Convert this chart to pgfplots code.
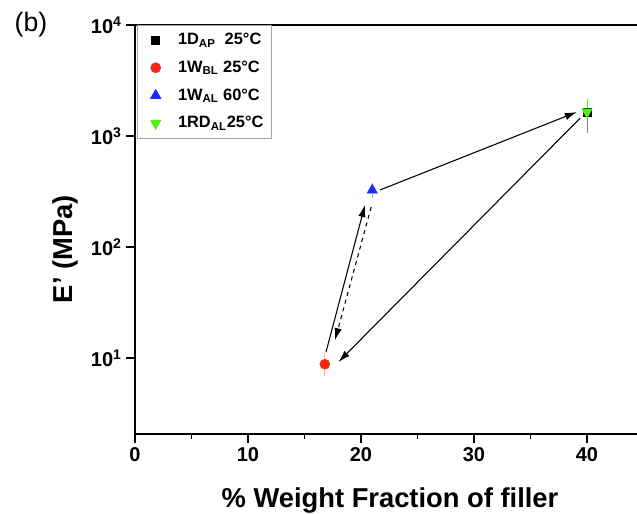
\documentclass[border=0pt]{standalone}
\usepackage{pgfplots}
\pgfplotsset{compat=1.18}
\usepackage{fontspec}
\setmainfont{Liberation Sans}
\usetikzlibrary{arrows.meta}
\definecolor{ored}{RGB}{245,40,20}
\definecolor{oblue}{RGB}{25,45,255}
\definecolor{ogreen}{RGB}{80,240,20}
\begin{document}
\begin{tikzpicture}
\path[use as bounding box] (-101.25pt,-60pt) rectangle (376.5pt,325.5pt);
\node[font=\fontsize{20}{24}\selectfont] at (-78pt,306.75pt) {(b)};
\begin{axis}[
  at={(0,0)}, anchor=south west,
  scale only axis, width=381.375pt, height=306.75pt,
  xmin=0, xmax=45, ymode=log, ymin=2.07, ymax=10000,
  xtick={0,10,20,30,40}, minor xtick={5,15,25,35},
  ytick={10,100,1000,10000},
  yticklabels={10\textsuperscript{1},10\textsuperscript{2},10\textsuperscript{3},10\textsuperscript{4}},
  yminorticks=false,
  tick align=outside, tick pos=left,
  major tick length=6.5pt, minor tick length=3.75pt,
  axis line style={line width=1pt},
  every tick/.style={line width=1pt, black},
  /pgf/number format/assume math mode=true,
  tick label style={font=\fontsize{15}{18}\selectfont\bfseries},
  xlabel={\% Weight Fraction of filler},
  ylabel={E' (MPa)},
  label style={font=\fontsize{20.5}{24}\selectfont\bfseries},
  xlabel style={at={(axis description cs:0.5015,-0.1614)}, anchor=center},
  ylabel style={at={(axis description cs:-0.1377,0.452)}, anchor=center},
  legend style={at={(axis description cs:0.004,1)}, anchor=north west,
    draw=gray!70, line width=0.5pt, font=\fontsize{12.3}{14}\selectfont\bfseries,
    row sep=6.7pt, inner xsep=4pt, inner ysep=4pt},
  legend cell align=left,
  legend image code/.code={%
    \path (0pt,0pt) (24pt,0pt);
    \draw[#1, mark repeat=2, mark phase=2] plot coordinates {(0pt,0pt) (9.5pt,0pt) (19pt,0pt)};},
]
\addplot[only marks, mark=square*, mark size=3pt, black,
  error bars/.cd, y dir=both, y explicit,
  error bar style={gray, line width=0.6pt}, error mark options={gray, mark size=4pt, line width=0.6pt}]
  coordinates {(40,1620) += (0,250) -= (0,440)};
\addlegendentry{1D\textsubscript{AP}\ \ 25°C}
\addplot[only marks, mark=*, mark size=3.75pt, ored,
  error bars/.cd, y dir=both, y explicit,
  error bar style={ored!40, line width=0.6pt}, error mark options={ored!40, mark size=3.5pt, line width=0.6pt}]
  coordinates {(16.8,8.8) +- (0,1.25)};
\addlegendentry{1W\textsubscript{BL}\ 25°C}
\addplot[only marks, mark=triangle*, mark size=4.5pt, oblue,
  error bars/.cd, y dir=both, y explicit,
  error bar style={oblue!40, line width=0.6pt}, error mark options={oblue!40, mark size=3.5pt, line width=0.6pt}]
  coordinates {(21,325) +- (0,20)};
\addlegendentry{1W\textsubscript{AL}\ 60°C}
\addplot[only marks, mark=triangle*, mark options={rotate=180}, mark size=4.5pt, ogreen,
  error bars/.cd, y dir=plus, y explicit,
  error bar style={ogreen, line width=0.6pt}, error mark options={ogreen, mark size=4pt, line width=0.6pt}]
  coordinates {(40,1645) +- (0,295)};
\addlegendentry{1RD\textsubscript{AL}25°C}
% arrows
\addplot[forget plot, black, line width=0.8pt, -{Latex[length=9pt,width=5.5pt]}]
  coordinates {(16.9,11.3) (20.35,239)};
\addplot[forget plot, black, line width=0.8pt, dashed, -{Latex[length=9pt,width=5.5pt]}]
  coordinates {(20.9,229) (17.7,14.5)};
\addplot[forget plot, black, line width=0.8pt, -{Latex[length=9pt,width=5.5pt]}]
  coordinates {(21.7,327) (39.1,1645)};
\addplot[forget plot, black, line width=0.8pt, -{Latex[length=9pt,width=5.5pt]}]
  coordinates {(39.4,1452) (18.0,9.2)};
\end{axis}
\end{tikzpicture}
\end{document}
